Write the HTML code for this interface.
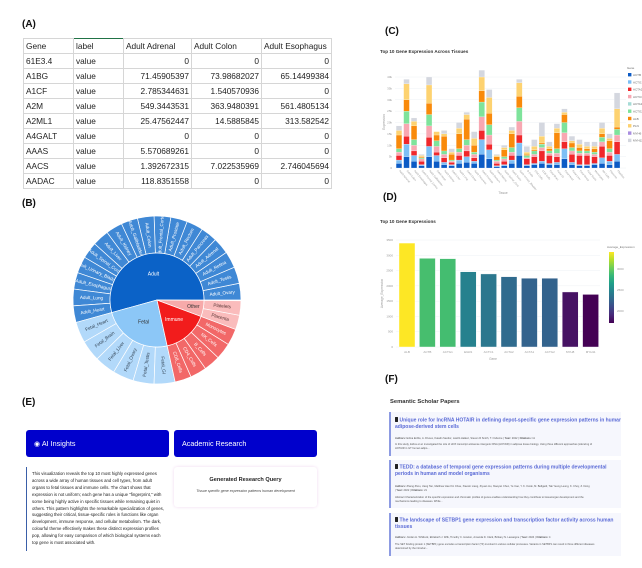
<!DOCTYPE html>
<html><head><meta charset="utf-8">
<style>
html,body{margin:0;padding:0;background:#fff;}
body{width:642px;height:568px;position:relative;overflow:hidden;font-family:"Liberation Sans",sans-serif;color:#222;}
.abs{position:absolute;}
.lbl{position:absolute;font-weight:bold;font-size:10px;color:#111;}
table.xl{position:absolute;left:23px;top:38px;border-collapse:collapse;font-size:8.3px;table-layout:fixed;}
table.xl td{border:1px solid #d6d6d6;height:14px;padding:0 2px;white-space:nowrap;overflow:hidden;}
table.xl td.n{text-align:right;}
.btn{position:absolute;background:#0000cc;color:#fff;font-size:7.2px;border-radius:3px;box-sizing:border-box;padding-left:8px;line-height:27px;height:27px;top:430px;width:143px;}
.para{position:absolute;left:26px;top:467px;width:140px;height:84px;border-left:1.5px solid #3a5fa8;font-size:4.3px;line-height:6.9px;color:#222;padding:4px 0 0 5px;white-space:nowrap;box-sizing:border-box;}
.card{position:absolute;left:389px;width:232px;background:#f6f7fd;border-left:2px solid #8d9be2;box-sizing:border-box;overflow:hidden;}
.ct{position:absolute;left:4px;font-size:5px;line-height:6.8px;color:#5a6ad6;white-space:nowrap;font-weight:bold;}
.ca{position:absolute;left:4px;font-size:2.6px;line-height:4.3px;color:#555;white-space:nowrap;}
.ico{display:inline-block;width:2.5px;height:5px;background:#222;margin-right:2px;vertical-align:-0.5px;border-radius:0.5px;}
</style></head>
<body>

<div class="lbl" style="left:22px;top:19px;">(A)</div>
<table class="xl">
<colgroup><col style="width:50px"><col style="width:50px"><col style="width:68px"><col style="width:70px"><col style="width:70px"></colgroup>
<tr><td>Gene</td><td style="border-top:1.5px solid #217346">label</td><td>Adult Adrenal</td><td>Adult Colon</td><td>Adult Esophagus</td></tr>
<tr><td>61E3.4</td><td>value</td><td class="n">0</td><td class="n">0</td><td class="n">0</td></tr>
<tr><td>A1BG</td><td>value</td><td class="n">71.45905397</td><td class="n">73.98682027</td><td class="n">65.14499384</td></tr>
<tr><td>A1CF</td><td>value</td><td class="n">2.785344631</td><td class="n">1.540570936</td><td class="n">0</td></tr>
<tr><td>A2M</td><td>value</td><td class="n">549.3443531</td><td class="n">363.9480391</td><td class="n">561.4805134</td></tr>
<tr><td>A2ML1</td><td>value</td><td class="n">25.47562447</td><td class="n">14.5885845</td><td class="n">313.582542</td></tr>
<tr><td>A4GALT</td><td>value</td><td class="n">0</td><td class="n">0</td><td class="n">0</td></tr>
<tr><td>AAAS</td><td>value</td><td class="n">5.570689261</td><td class="n">0</td><td class="n">0</td></tr>
<tr><td>AACS</td><td>value</td><td class="n">1.392672315</td><td class="n">7.022535969</td><td class="n">2.746045694</td></tr>
<tr><td>AADAC</td><td>value</td><td class="n">118.8351558</td><td class="n">0</td><td class="n">0</td></tr>
</table>

<div class="lbl" style="left:22px;top:198px;">(B)</div>
<svg id="sun" class="abs" style="left:0;top:0" width="330" height="390"></svg>

<div class="lbl" style="left:385px;top:26px;">(C)</div>
<svg id="stack" class="abs" style="left:0;top:0" width="642" height="200"></svg>

<div class="lbl" style="left:383px;top:192px;">(D)</div>
<svg id="bars" class="abs" style="left:0;top:195px" width="642" height="180"></svg>

<div class="lbl" style="left:22px;top:397px;">(E)</div>
<div class="btn" style="left:26px;">&#9673; AI Insights</div>
<div class="btn" style="left:174px;">Academic Research</div>
<div class="para">This visualization reveals the top 10 most highly expressed genes<br>across a wide array of human tissues and cell types, from adult<br>organs to fetal tissues and immune cells. The chart shows that<br>expression is not uniform; each gene has a unique "fingerprint," with<br>some being highly active in specific tissues while remaining quiet in<br>others. This pattern highlights the remarkable specialization of genes,<br>suggesting their critical, tissue-specific roles in functions like organ<br>development, immune response, and cellular metabolism. The dark,<br>colourful theme effectively makes these distinct expression profiles<br>pop, allowing for easy comparison of which biological systems each<br>top gene is most associated with.</div>
<div class="abs" style="left:174px;top:467px;width:143px;height:40px;border-radius:3px;box-shadow:0 0 3px #f0d8f0;background:#fff;">
 <div class="abs" style="left:0;top:10px;width:143px;text-align:center;font-size:5.6px;font-weight:bold;color:#222;">Generated Research Query</div>
 <div class="abs" style="left:0;top:22px;width:143px;text-align:center;font-size:3.6px;font-style:italic;color:#444;">Tissue specific gene expression patterns human development</div>
</div>

<div class="lbl" style="left:385px;top:374px;">(F)</div>
<div class="abs" style="left:390px;top:399px;font-size:5.8px;font-weight:bold;color:#333;">Semantic Scholar Papers</div>

<div class="card" style="top:412px;height:44px;">
 <div class="ct" style="top:5px;"><span class="ico"></span>Unique role for lncRNA HOTAIR in defining depot-specific gene expression patterns in human<br>adipose-derived stem cells</div>
 <div class="ca" style="top:25px;"><b>Authors:</b> Edina Erdős, A. Divoux, Katalin Sandor, László Halász, Steven R Smith, T. Osborne | <b>Year:</b> 2022 | <b>Citations:</b> 11</div>
 <div class="ca" style="top:31px;">In this study, Erdos et al. investigated the role of HOX transcript antisense intergenic RNA (HOTAIR) in adipose tissue biology. Using three different approaches (silencing of<br>HOTAIR in GT human adipo...</div>
</div>
<div class="card" style="top:460px;height:48px;">
 <div class="ct" style="top:4px;"><span class="ico"></span>TEDD: a database of temporal gene expression patterns during multiple developmental<br>periods in human and model organisms</div>
 <div class="ca" style="top:25px;"><b>Authors:</b> Zhang Zhou, Jiang Tan, Matthew Hao Kin Chau, Xiaoxin Liang, Ziyuan Hu, Xiaoyan Chen, Ye Cao, Y. K. Kwok, M. Bellgard, Tak Yeung Leung, K. Choy, Z. Dong<br>| <b>Year:</b> 2022 | <b>Citations:</b> 21</div>
 <div class="ca" style="top:36px;">Abstract Characterization of the specific expression and chromatin profiles of genes enables understanding how they contribute to tissue/organ development and the<br>mechanisms leading to diseases. While...</div>
</div>
<div class="card" style="top:513px;height:43px;">
 <div class="ct" style="top:4px;"><span class="ico"></span>The landscape of SETBP1 gene expression and transcription factor activity across human<br>tissues</div>
 <div class="ca" style="top:23px;"><b>Authors:</b> Jordan H. Whitlock, Elizabeth J. Wilk, Timothy C. Howton, Amanda D. Clark, Brittany N. Lasseigne | <b>Year:</b> 2024 | <b>Citations:</b> 4</div>
 <div class="ca" style="top:30px;">The SET binding protein 1 (SETBP1) gene encodes a transcription factor (TF) involved in various cellular processes. Variants in SETBP1 can result in three different diseases<br>determined by the introduc...</div>
</div>

<script>
// ---------- Sunburst data ----------
const sunParents = ["Adult","Fetal","Immune","Other"];
const leafNames = ["Adult_Ovary","Adult_Testis","Adult_Retina","Adult_Adrenal","Adult_Pancreas","Adult_Rectum","Adult_Prostate","Adult_Frontal_Cortex","Adult_Colon","Adult_Gallbladder","Adult_Kidney","Adult_Liver","Adult_Spinal_Cord","Adult_Urinary_Bladder","Adult_Esophagus","Adult_Lung","Adult_Heart",
 "Fetal_Heart","Fetal_Brain","Fetal_Liver","Fetal_Ovary","Fetal_Testis","Fetal_GI",
 "CD8_Cells","CD4_Cells","B_Cells","NK_Cells","Monocytes",
 "Placenta","Platelets"];
const leafParent = ["Adult","Adult","Adult","Adult","Adult","Adult","Adult","Adult","Adult","Adult","Adult","Adult","Adult","Adult","Adult","Adult","Adult",
 "Fetal","Fetal","Fetal","Fetal","Fetal","Fetal",
 "Immune","Immune","Immune","Immune","Immune",
 "Other","Other"];
const leafValues = [11.5,11.5,11.5,11.5,11.5,11.5,11.5,11.5,11.5,11.5,11.5,11.5,11.5,11.5,11.5,11.5,11.5,
 14.5,14.5,14.5,14.5,14.5,14.5,
 11.4,11.4,11.4,11.4,11.4,
 10,10];

(function(){
 const NS="http://www.w3.org/2000/svg";
 const svg=document.getElementById('sun');
 const cx=157, cy=300, r0=0, r1=47, r2=84;
 const innerCol={Adult:"#0b62c7",Fetal:"#8cc7f7",Immune:"#f21c1c",Other:"#f7aaaa"};
 const leafCol={Adult:"#3f88d5",Fetal:"#b2d9fa",Immune:"#f26868",Other:"#fabcbc"};
 const txtCol={Adult:"#fff",Fetal:"#345",Immune:"#fff",Other:"#533"};
 const total=leafValues.reduce((a,b)=>a+b,0);
 const scale=359.5/total;
 function pt(r,a){const t=a*Math.PI/180;return [cx+r*Math.cos(t),cy-r*Math.sin(t)];}
 function arc(ra,rb,a0,a1){
  const large=(a1-a0)>180?1:0;
  const p1=pt(rb,a0),p2=pt(rb,a1);
  if(ra===0){return `M${cx},${cy}L${p1[0]},${p1[1]}A${rb},${rb} 0 ${large} 0 ${p2[0]},${p2[1]}Z`;}
  const p3=pt(ra,a1),p4=pt(ra,a0);
  return `M${p1[0]},${p1[1]}A${rb},${rb} 0 ${large} 0 ${p2[0]},${p2[1]}L${p3[0]},${p3[1]}A${ra},${ra} 0 ${large} 1 ${p4[0]},${p4[1]}Z`;
 }
 const gIn=document.createElementNS(NS,'g'), gOut=document.createElementNS(NS,'g');
 svg.appendChild(gOut);svg.appendChild(gIn);
 let a=0;
 sunParents.forEach(p=>{
  const start=a;
  leafNames.forEach((n,i)=>{
   if(leafParent[i]!==p)return;
   const a0=a,a1=a+leafValues[i]*scale;a=a1;
   const path=document.createElementNS(NS,'path');
   path.setAttribute('d',arc(r1,r2,a0,a1));
   path.setAttribute('fill',leafCol[p]);path.setAttribute('stroke','#fff');path.setAttribute('stroke-width','0.7');
   
   
   gOut.appendChild(path);
   const mid=(a0+a1)/2;const tp=pt((r1+r2)/2,mid);
   let rot=-mid; if(mid>90&&mid<270) rot=180-mid;
   const t=document.createElementNS(NS,'text');
   t.setAttribute('x',tp[0]);t.setAttribute('y',tp[1]);
   t.setAttribute('transform',`rotate(${rot} ${tp[0]} ${tp[1]})`);
   t.setAttribute('text-anchor','middle');t.setAttribute('dominant-baseline','middle');
   t.setAttribute('font-size','4.6');t.setAttribute('fill',txtCol[p]);
   t.textContent=n;
   
   
   gOut.appendChild(t);
  });
  const path=document.createElementNS(NS,'path');
  path.setAttribute('d',arc(r0,r1,start,a));
  path.setAttribute('fill',innerCol[p]);path.setAttribute('stroke','#fff');path.setAttribute('stroke-width','0.7');
  
  
  gIn.appendChild(path);
  const mid=(start+a)/2;
  const rr=(p==="Other")?37:26;
  const tp=pt(rr,mid);
  const t=document.createElementNS(NS,'text');
  t.setAttribute('x',tp[0]);t.setAttribute('y',tp[1]);
  t.setAttribute('text-anchor','middle');t.setAttribute('dominant-baseline','middle');
  t.setAttribute('font-size','5');t.setAttribute('fill',p==="Fetal"||p==="Other"?"#333":"#fff");
  t.textContent=p;
  
  
  gIn.appendChild(t);
 });
})();
</script>

<script>
// ---------- Stacked bar chart data (values in thousands) ----------
const tissues = ["Adult_Adrenal","Adult_Colon","Adult_Esophagus","Adult_Frontal_Cortex","Adult_Gallbladder","Adult_Heart","Adult_Kidney","Adult_Liver","Adult_Lung","Adult_Ovary","Adult_Pancreas","Adult_Prostate","Adult_Rectum","Adult_Retina","Adult_Spinal_Cord","Adult_Testis","Adult_Urinary_Bladder","B_Cells","CD4_Cells","CD8_Cells","Fetal_Brain","Fetal_GI","Fetal_Heart","Fetal_Liver","Fetal_Ovary","Fetal_Testis","Monocytes","NK_Cells","Placenta","Platelets"];
const geneNames = ["ACTB","ACTG1","ACTA2","ACTC1","ACTA1","ACTG2","ALB","PLN","MYH6","MYH11"];
const yTicksC = [0,5,10,15,20,25,30,35,40];
const sACTB  = [2,5,3,1,5,3,1.5,1,2,2.5,2,6,4,0.5,1,2,5.5,1,1.5,2,1.5,1.5,4,1.5,1,1,1.5,2,1.5,3];
const sACTG1 = [1.5,5.5,2.5,0.5,4.5,2.5,1,0.5,1.5,2.5,1,6.5,4,0.5,0.5,1.5,5.5,0.5,0.5,1,0.5,1,4.5,1,0.5,0.5,0.5,2.5,1.5,3];
const sACTA2 = [2,3.5,2,1.5,4,1.5,2,1,2,2.5,1.5,4,2.5,1,1.5,2,3.5,2.5,3,4.5,3.5,2.5,3,3.5,4,4,3,5,2.5,5.5];
const sACTC1 = [1.5,5.5,2.5,1,5,2.5,1.5,0.5,1.5,2.5,1.5,6,4,1,1,1.5,6,0.5,1,1.5,1,1.5,4,1.5,1,1,1,2,1.5,3];
const sACTA1 = [0,0,0,0,0,0,0,0,0,0,0,0,0,0,0,0,0,0,0,0,0,0,0,0,0,0,0,0,0,0];
const sACTG2 = [1.5,5.5,2.5,0.5,5,2.5,1.5,0.5,1.5,2.5,1,6.5,4.5,0.5,1,2,6,1,1.5,1.5,1,2,4.5,1.5,1,1,1,2,1.5,2.5];
const sALB   = [6,5,6,0.5,5,2.5,6.5,2.5,6.5,9,3,5,5,1.5,3,6,5,0.5,0.5,0.5,1,7,3.5,2,1.5,1,1.5,1.5,3.5,1];
const sPLN   = [2,7,2,0.5,8,1.5,1,1,2.5,2,3,6,7,0.5,1,1.5,6,1,1.5,3,1,2,1,1,1.5,1,1,2.5,1,8];
const sMYH6  = [0,0,0,0,0,0,0,0,0,0,0,0,0,0,0,0,0,0,0,0,0,0,0,0,0,0,0,0,0,0];
const sMYH11 = [2,2,1.5,0.5,3.5,0,1.5,1.5,2.5,1,3,3,3.5,0.5,1,1.5,1.5,2.5,3,6,2,2,1.5,2,2,2,2,2.5,2,7];
const seriesC = [sACTB,sACTG1,sACTA2,sACTC1,sACTA1,sACTG2,sALB,sPLN,sMYH6,sMYH11];

(function(){
 const NS="http://www.w3.org/2000/svg";
 const svg=document.getElementById('stack');
 const colors=["#0c5bc5","#7dbff5","#f0272b","#f8a7b2","#a6dbd6","#7ee39b","#f98a0b","#fdd270","#a98ee0","#d4d7df"];
 const x0=399, step=7.52, bw=5.8, yZero=168, kPx=91/40;
 const X=i=>x0+i*step, Y=v=>yZero-v*kPx;
 function el(tag,attrs,name,inter){const e=document.createElementNS(NS,tag);for(const k in attrs)e.setAttribute(k,attrs[k]);svg.appendChild(e);return e;}
 const title=el('text',{x:380,y:53,'font-size':4.6,'font-weight':'bold',fill:'#333'},'chart-title','false');title.textContent="Top 10 Gene Expression Across Tissues";
 yTicksC.forEach(v=>{
  const g=document.createElementNS(NS,'line');g.setAttribute('x1',395);g.setAttribute('x2',626);g.setAttribute('y1',Y(v));g.setAttribute('y2',Y(v));g.setAttribute('stroke','#eef0f4');g.setAttribute('stroke-width','0.5');
  
  
  svg.appendChild(g);
  const t=document.createElementNS(NS,'text');t.setAttribute('x',392);t.setAttribute('y',Y(v)+1);t.setAttribute('font-size','3');t.setAttribute('fill','#999');t.setAttribute('text-anchor','end');
  t.textContent=v===0?"0":v+"k";
  
  
  svg.appendChild(t);
 });
 const yt=el('text',{x:0,y:0,'font-size':3.2,fill:'#999','text-anchor':'middle',transform:'translate(385,122) rotate(-90)'},'y-axis-title','false');yt.textContent="Expression";
 const xt=el('text',{x:503,y:194,'font-size':3.2,fill:'#999','text-anchor':'middle'},'x-axis-title','false');xt.textContent="Tissue";
 tissues.forEach((name,i)=>{
  let acc=0;
  seriesC.forEach((s,k)=>{
   const v=s[i]; if(!v)return;
   const r=document.createElementNS(NS,'rect');
   r.setAttribute('x',X(i)-bw/2);r.setAttribute('width',bw);
   r.setAttribute('y',Y(acc+v));r.setAttribute('height',Y(acc)-Y(acc+v));
   r.setAttribute('fill',colors[k]);r.setAttribute('stroke','#fff');r.setAttribute('stroke-width','0.2');
   
   
   svg.appendChild(r);
   acc+=v;
  });
  const t=document.createElementNS(NS,'text');
  t.setAttribute('x',X(i));t.setAttribute('y',171);t.setAttribute('font-size','2.6');t.setAttribute('fill','#999');
  t.setAttribute('transform',`rotate(50 ${X(i)} 171)`);
  t.textContent=name.replace('_',' ');
  
  
  svg.appendChild(t);
 });
 const lt=el('text',{x:627,y:69,'font-size':3,fill:'#666'},'legend-title','false');lt.textContent="Gene";
 geneNames.forEach((g,k)=>{
  const yy=73+k*7.3;
  const r=document.createElementNS(NS,'rect');r.setAttribute('x',628);r.setAttribute('y',yy);r.setAttribute('width',3.4);r.setAttribute('height',3.4);r.setAttribute('fill',colors[k]);
  
  
  svg.appendChild(r);
  const t=document.createElementNS(NS,'text');t.setAttribute('x',633);t.setAttribute('y',yy+3);t.setAttribute('font-size','3');t.setAttribute('fill','#666');t.textContent=g;
  
  
  svg.appendChild(t);
 });
})();
</script>

<script>
// ---------- Top 10 bar chart data ----------
const genesD = ["ALB","ACTB","ACTG1","EGR1","ACTC1","ACTA2","ACTA1","ACTG2","MYH8","MYH11"];
const avgExpr = [3400,2900,2890,2460,2390,2300,2250,2250,1800,1720];
const yTicksD = [0,500,1000,1500,2000,2500,3000,3500];
const cbTicks = [2000,2500,3000];

(function(){
 const NS="http://www.w3.org/2000/svg";
 const svg=document.getElementById('bars');
 const oy=195;
 const yZero=347-oy, pxPer=107/3500;
 const x0=407, step=20.4, bw=16;
 const X=i=>x0+i*step, Y=v=>yZero-v*pxPer;
 const vir=[[68,1,84],[72,40,120],[62,73,137],[49,104,142],[38,130,142],[31,158,137],[53,183,121],[110,206,88],[181,222,43],[253,231,37]];
 const vmin=Math.min(...avgExpr), vmax=Math.max(...avgExpr);
 function viridis(t){t=Math.max(0,Math.min(1,t));const f=t*(vir.length-1),i=Math.min(vir.length-2,Math.floor(f)),u=f-i;const c=vir[i].map((v,k)=>Math.round(v+(vir[i+1][k]-v)*u));return `rgb(${c[0]},${c[1]},${c[2]})`;}
 function add(tag,attrs,name,inter){const e=document.createElementNS(NS,tag);for(const k in attrs)e.setAttribute(k,attrs[k]);svg.appendChild(e);return e;}
 const tt=add('text',{x:380,y:28,'font-size':4.6,'font-weight':'bold',fill:'#333'},'chart-title','false');tt.textContent="Top 10 Gene Expressions";
 yTicksD.forEach(v=>{
  const l=document.createElementNS(NS,'line');l.setAttribute('x1',396);l.setAttribute('x2',600);l.setAttribute('y1',Y(v));l.setAttribute('y2',Y(v));l.setAttribute('stroke','#eef0f4');l.setAttribute('stroke-width','0.5');
  
  
  svg.appendChild(l);
  const t=document.createElementNS(NS,'text');t.setAttribute('x',393);t.setAttribute('y',Y(v)+1);t.setAttribute('font-size','3');t.setAttribute('fill','#999');t.setAttribute('text-anchor','end');t.textContent=v;
  
  
  svg.appendChild(t);
 });
 const yt=add('text',{x:0,y:0,'font-size':3.2,fill:'#999','text-anchor':'middle',transform:`translate(383,${Y(1750)}) rotate(-90)`},'y-axis-title','false');yt.textContent="Average_Expression";
 const xt=add('text',{x:493,y:165,'font-size':3.2,fill:'#999','text-anchor':'middle'},'x-axis-title','false');xt.textContent="Gene";
 genesD.forEach((g,i)=>{
  const v=avgExpr[i];
  const r=document.createElementNS(NS,'rect');
  r.setAttribute('x',X(i)-bw/2);r.setAttribute('width',bw);r.setAttribute('y',Y(v));r.setAttribute('height',Y(0)-Y(v));
  r.setAttribute('fill',viridis((v-vmin)/(vmax-vmin)));r.setAttribute('stroke','#fff');r.setAttribute('stroke-width','0.4');
  
  
  svg.appendChild(r);
  const t=document.createElementNS(NS,'text');t.setAttribute('x',X(i));t.setAttribute('y',Y(0)+6);t.setAttribute('font-size','3');t.setAttribute('fill','#999');t.setAttribute('text-anchor','middle');t.textContent=g;
  
  
  svg.appendChild(t);
 });
 const defs=document.createElementNS(NS,'defs');
 const lg=document.createElementNS(NS,'linearGradient');lg.setAttribute('id','vg');lg.setAttribute('x1','0');lg.setAttribute('x2','0');lg.setAttribute('y1','1');lg.setAttribute('y2','0');
 vir.forEach((c,k)=>{const s=document.createElementNS(NS,'stop');s.setAttribute('offset',k/(vir.length-1));s.setAttribute('stop-color',`rgb(${c})`);lg.appendChild(s);});
 defs.appendChild(lg);svg.appendChild(defs);
 const cbTop=252-oy, cbBot=323-oy;
 add('rect',{x:609,y:cbTop,width:5,height:cbBot-cbTop,fill:'url(#vg)'},'colorbar','false');
 const ct=add('text',{x:607,y:cbTop-4,'font-size':3,fill:'#777'},'colorbar-title','false');ct.textContent="Average_Expression";
 cbTicks.forEach(v=>{
  const yy=cbBot-(v-vmin)/(vmax-vmin)*(cbBot-cbTop);
  const t=document.createElementNS(NS,'text');t.setAttribute('x',617);t.setAttribute('y',yy+1);t.setAttribute('font-size','3');t.setAttribute('fill','#999');t.textContent=v;
  
  
  svg.appendChild(t);
 });
})();
</script>
</body></html>
